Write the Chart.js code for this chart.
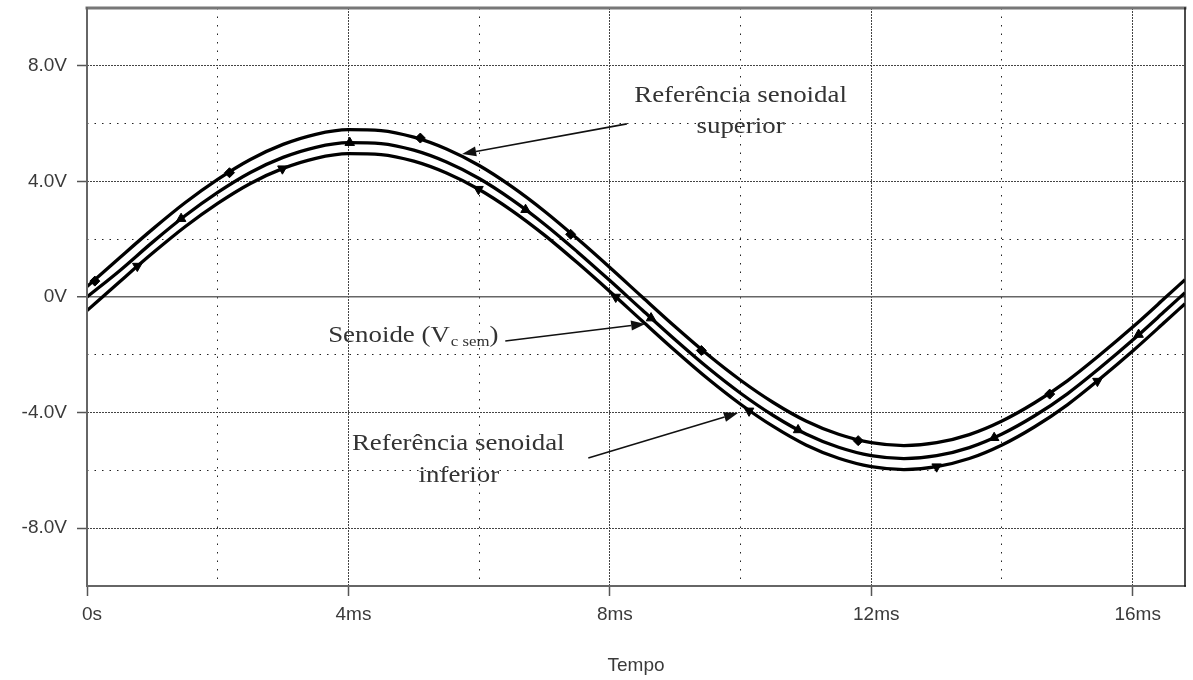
<!DOCTYPE html>
<html>
<head>
<meta charset="utf-8">
<script src="https://cdn.jsdelivr.net/npm/chart.js@4.4.1/dist/chart.umd.min.js"></script>
<style>
  html, body { margin: 0; padding: 0; background: #fff; }
  #wrap { width: 1193px; height: 680px; }
</style>
</head>
<body>
<div id="wrap"><canvas id="chart"></canvas></div>
<script>
// time axis (ms) and the three traces (V)
const tempoMs = [0, 0.5, 1, 1.5, 2, 2.5, 3, 3.5, 4, 4.5, 5, 5.5, 6, 6.5, 7, 7.5, 8, 8.5,
  9, 9.5, 10, 10.5, 11, 11.5, 12, 12.5, 13, 13.5, 14, 14.5, 15, 15.5, 16, 16.5, 16.8];
const vSuperior = [0.36, 1.36, 2.34, 3.26, 4.07, 4.76, 5.28, 5.63, 5.79, 5.76, 5.53, 5.12,
  4.55, 3.82, 2.97, 2.02, 1.02, -0.01, -1.03, -2.00, -2.88, -3.65, -4.29, -4.75, -5.04,
  -5.14, -5.04, -4.76, -4.29, -3.66, -2.90, -2.00, -1.04, -0.02, 0.60];
const vSenoide = [0.00, 0.91, 1.89, 2.81, 3.62, 4.31, 4.83, 5.18, 5.34, 5.31, 5.08, 4.67,
  4.10, 3.37, 2.52, 1.57, 0.57, -0.46, -1.48, -2.45, -3.33, -4.10, -4.74, -5.20, -5.49,
  -5.59, -5.49, -5.21, -4.74, -4.11, -3.35, -2.45, -1.49, -0.47, 0.15];
const vInferior = [-0.47, 0.53, 1.51, 2.43, 3.24, 3.93, 4.45, 4.80, 4.96, 4.93, 4.70, 4.29,
  3.72, 2.99, 2.14, 1.19, 0.19, -0.84, -1.86, -2.83, -3.71, -4.48, -5.12, -5.58, -5.87,
  -5.97, -5.87, -5.59, -5.12, -4.49, -3.73, -2.83, -1.87, -0.85, -0.23];

// trace markers (ms, V)
const mSuperiorT = [0.12, 2.18, 5.10, 7.40, 9.40, 11.80, 14.73];
const mSuperiorV = [0.55, 4.30, 5.50, 2.17, -1.85, -4.97, -3.36];
const mSenoideT = [1.44, 4.02, 6.71, 8.63, 10.88, 13.88, 16.09];
const mSenoideV = [2.71, 5.34, 3.02, -0.73, -4.60, -4.87, -1.30];
const mInferiorT = [0.77, 2.99, 5.99, 8.09, 10.13, 13.00, 15.46];
const mInferiorV = [1.07, 4.44, 3.73, 0.00, -3.94, -5.87, -2.91];

const xRange = [0, 16.8];
const yRange = [-10, 10];

const pts = (xs, ys) => xs.map((x, i) => ({ x: x, y: ys[i] }));

function traceDs(label, values) {
  return {
    label: label,
    data: pts(tempoMs, values),
    borderColor: '#000',
    borderWidth: 3.3,
    pointRadius: 0,
    cubicInterpolationMode: 'monotone',
    fill: false
  };
}

function markerDs(label, ts, vs, style, radius, rotation) {
  return {
    label: label,
    data: pts(ts, vs),
    showLine: false,
    pointStyle: style,
    pointRadius: radius,
    pointRotation: rotation,
    pointBackgroundColor: '#000',
    pointBorderColor: '#000',
    pointBorderWidth: 1
  };
}

// frame around the plot area
const framePlugin = {
  id: 'frame',
  afterDatasetsDraw(chart) {
    const { ctx, chartArea: a } = chart;
    ctx.save();
    ctx.lineCap = 'square';
    ctx.strokeStyle = '#777';
    ctx.lineWidth = 3;
    ctx.beginPath(); ctx.moveTo(a.left, a.top); ctx.lineTo(a.right, a.top); ctx.stroke();
    ctx.strokeStyle = '#666';
    ctx.lineWidth = 2;
    ctx.beginPath(); ctx.moveTo(a.left, a.top); ctx.lineTo(a.left, a.bottom); ctx.lineTo(a.right, a.bottom); ctx.stroke();
    ctx.strokeStyle = '#111';
    ctx.lineWidth = 1.5;
    ctx.beginPath(); ctx.moveTo(a.right, a.top); ctx.lineTo(a.right, a.bottom); ctx.stroke();
    ctx.restore();
  }
};

// text notes with arrows, placed in data units
const notes = [
  { text: 'Referência senoidal', t: 10.0, v: 6.75, align: 'center' },
  { text: 'superior', t: 10.0, v: 5.67, align: 'center' },
  { text: 'Referência senoidal', t: 5.68, v: -5.29, align: 'center' },
  { text: 'inferior', t: 5.69, v: -6.40, align: 'center' }
];
const arrows = [
  { from: [8.26, 5.99], to: [5.74, 4.95] },
  { from: [6.40, -1.52], to: [8.54, -0.93] },
  { from: [7.67, -5.57], to: [9.96, -4.01] }
];
const senoideNote = { t: 3.69, v: -1.56 };

const STRETCH = 1.12;

function stretchedText(ctx, text, x, y, align) {
  ctx.save();
  ctx.translate(x, y);
  ctx.scale(STRETCH, 1);
  ctx.textAlign = align;
  ctx.fillText(text, 0, 0);
  ctx.restore();
}

const notesPlugin = {
  id: 'notes',
  afterDraw(chart) {
    const { ctx } = chart;
    const xs = chart.scales.x, ys = chart.scales.y;
    ctx.save();
    ctx.fillStyle = '#333';
    ctx.textBaseline = 'alphabetic';
    ctx.font = '24px "Liberation Serif", "Times New Roman", serif';
    notes.forEach(n => {
      stretchedText(ctx, n.text, xs.getPixelForValue(n.t), ys.getPixelForValue(n.v), n.align);
    });

    // "Senoide (Vc sem)" with subscript
    let x = xs.getPixelForValue(senoideNote.t);
    const y = ys.getPixelForValue(senoideNote.v);
    const main = 'Senoide (V';
    stretchedText(ctx, main, x, y, 'left');
    x += ctx.measureText(main).width * STRETCH;
    ctx.font = '15px "Liberation Serif", "Times New Roman", serif';
    stretchedText(ctx, 'c sem', x + 1, y + 4, 'left');
    x += ctx.measureText('c sem').width * STRETCH + 1;
    ctx.font = '24px "Liberation Serif", "Times New Roman", serif';
    stretchedText(ctx, ')', x, y, 'left');

    // arrows
    ctx.strokeStyle = '#111';
    ctx.fillStyle = '#111';
    ctx.lineWidth = 1.6;
    arrows.forEach(a => {
      const x0 = xs.getPixelForValue(a.from[0]), y0 = ys.getPixelForValue(a.from[1]);
      const x1 = xs.getPixelForValue(a.to[0]), y1 = ys.getPixelForValue(a.to[1]);
      const ang = Math.atan2(y1 - y0, x1 - x0);
      const len = 14, half = 5;
      const bx = x1 - len * Math.cos(ang), by = y1 - len * Math.sin(ang);
      ctx.beginPath();
      ctx.moveTo(x0, y0);
      ctx.lineTo(bx, by);
      ctx.stroke();
      ctx.beginPath();
      ctx.moveTo(x1, y1);
      ctx.lineTo(bx + half * Math.sin(ang), by - half * Math.cos(ang));
      ctx.lineTo(bx - half * Math.sin(ang), by + half * Math.cos(ang));
      ctx.closePath();
      ctx.fill();
    });
    ctx.restore();
  }
};

const labeledX = v => v % 4 === 0;
const labeledY = v => v % 4 === 0;

new Chart(document.getElementById('chart'), {
  type: 'line',
  data: {
    datasets: [
      traceDs('Referência senoidal superior', vSuperior),
      traceDs('Senoide', vSenoide),
      traceDs('Referência senoidal inferior', vInferior),
      markerDs('m1', mSuperiorT, mSuperiorV, 'rectRot', 5, 0),
      markerDs('m2', mSenoideT, mSenoideV, 'triangle', 5.5, 0),
      markerDs('m3', mInferiorT, mInferiorV, 'triangle', 5.5, 180)
    ]
  },
  options: {
    responsive: true,
    maintainAspectRatio: false,
    animation: false,
    layout: { padding: { top: 8, right: 8, left: 0, bottom: 0 } },
    plugins: {
      legend: { display: false },
      tooltip: { enabled: false }
    },
    scales: {
      x: {
        type: 'linear',
        min: xRange[0],
        max: xRange[1],
        afterFit: (s) => { s.height = 94; s.paddingLeft = 0; s.paddingRight = 0; },
        ticks: {
          stepSize: 2,
          includeBounds: false,
          autoSkip: false,
          maxRotation: 0,
          padding: 7,
          labelOffset: 5,
          color: '#3a3a3a',
          font: { family: '"Liberation Sans", Arial, sans-serif', size: 19 },
          callback: (v) => labeledX(v) ? (v === 0 ? '0s' : v + 'ms') : ''
        },
        grid: {
          color: (c) => (c.tick && c.tick.value > 0) ? (labeledX(c.tick.value) ? '#444' : '#222') : 'rgba(0,0,0,0)',
          lineWidth: 1,
          tickLength: 10,
          tickWidth: 1.5,
          tickColor: (c) => (c.tick && labeledX(c.tick.value)) ? '#555' : 'rgba(0,0,0,0)'
        },
        border: {
          display: false,
          dash: (c) => c.tick ? (labeledX(c.tick.value) ? [2, 1] : [1.5, 7]) : []
        },
        title: {
          display: true,
          text: 'Tempo',
          color: '#3a3a3a',
          font: { family: '"Liberation Sans", Arial, sans-serif', size: 19 },
          padding: { top: 0, bottom: 3 }
        }
      },
      y: {
        type: 'linear',
        min: yRange[0],
        max: yRange[1],
        afterFit: (s) => { s.width = 87; s.paddingTop = 0; s.paddingBottom = 0; },
        ticks: {
          stepSize: 2,
          autoSkip: false,
          padding: 10,
          color: '#3a3a3a',
          font: { family: '"Liberation Sans", Arial, sans-serif', size: 19 },
          callback: (v) => labeledY(v) ? (v === 0 ? '0V' : v.toFixed(1) + 'V') : ''
        },
        grid: {
          color: (c) => {
            if (!c.tick || Math.abs(c.tick.value) === 10) return 'rgba(0,0,0,0)';
            if (c.tick.value === 0) return '#666';
            return labeledY(c.tick.value) ? '#444' : '#222';
          },
          lineWidth: (c) => (c.tick && c.tick.value === 0) ? 1.5 : 1,
          tickLength: 10,
          tickWidth: 1.5,
          tickColor: (c) => (c.tick && labeledY(c.tick.value) && Math.abs(c.tick.value) < 10) ? '#555' : 'rgba(0,0,0,0)'
        },
        border: {
          display: false,
          dash: (c) => {
            if (!c.tick || c.tick.value === 0) return [];
            return labeledY(c.tick.value) ? [2, 1] : [1.5, 6];
          }
        }
      }
    }
  },
  plugins: [framePlugin, notesPlugin]
});
</script>
</body>
</html>
